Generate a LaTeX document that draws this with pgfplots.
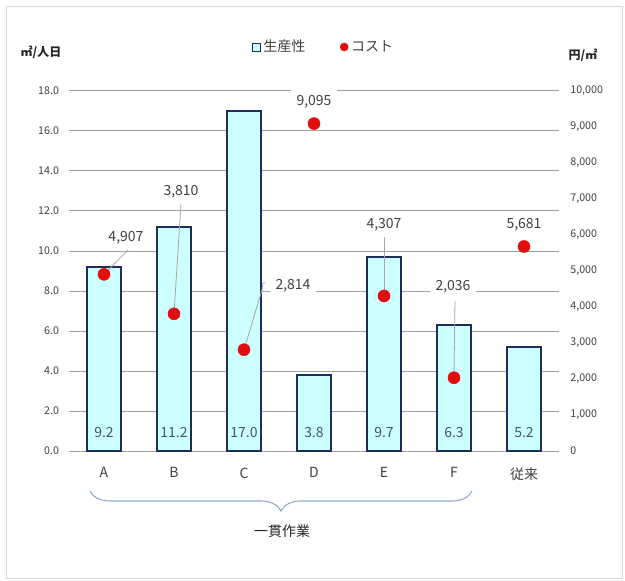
\documentclass[border=0pt]{standalone}
\usepackage{pgfplots}
\pgfplotsset{compat=1.18}
\usepackage{fontspec}
\setmainfont{Noto Sans CJK JP}
\usetikzlibrary{decorations.pathreplacing}

\definecolor{barfill}{HTML}{CCFFFF}
\definecolor{baredge}{HTML}{1F2D5C}
\definecolor{dotred}{HTML}{E00E0E}
\definecolor{gridgray}{HTML}{A0A0A0}
\definecolor{txt}{HTML}{404040}
\definecolor{barlbl}{HTML}{44546A}
\definecolor{bracecol}{HTML}{8EA9CC}
\definecolor{leader}{HTML}{A6A6A6}

\pgfplotsset{
  common/.style={
    at={(51.75pt,-338.25pt)}, anchor=south west,
    scale only axis, width=367.5pt, height=270pt,
    xmin=-0.5, xmax=6.5,
    axis line style={draw=none},
    major tick length=0pt,
    tick label style={text=txt, font=\fontsize{8}{10}\selectfont},
    /pgf/number format/assume math mode=true,
  },
}

\begin{document}
\begin{tikzpicture}
\begin{scope}[x=0.75pt,y=-0.75pt]
  \path[use as bounding box] (0,0) rectangle (625,581);
  \draw[black!15, line width=0.75pt] (6,7) rectangle (622,578);
  \node[font=\bfseries\fontsize{9}{11}\selectfont, text=black!85] at (41,52) {㎡/人日};
  \node[font=\bfseries\fontsize{9}{11}\selectfont, text=black!85] at (583,55) {円/㎡};
  \draw[bracecol, line width=0.8pt, decorate, decoration={brace, amplitude=15pt, mirror}]
    (90,491) -- (472,491);
  \node[font=\fontsize{10.5}{12}\selectfont, text=black!85] at (282,531) {一貫作業};
\end{scope}

% productivity (left axis)
\begin{axis}[common,
  ymin=0, ymax=18,
  ytick={0,2,...,18},
  ymajorgrids, grid style={gridgray, line width=0.75pt},
  xtick={0,...,6},
  xticklabels={A,B,C,D,E,F,従来},
  xticklabel style={font=\fontsize{10.5}{12}\selectfont, yshift=-9pt},
  yticklabel style={xshift=-4pt, /pgf/number format/.cd, fixed, fixed zerofill, precision=1},
  clip=false,
]
\addplot[ybar, bar shift=0pt, bar width=25.5pt, fill=barfill, draw=baredge, line width=0.9pt]
  coordinates {(0,9.2) (1,11.2) (2,17.0) (3,3.8) (4,9.7) (5,6.3) (6,5.2)};
\addplot[draw=none, mark=none, nodes near coords, point meta=explicit symbolic,
  every node near coord/.style={anchor=center, yshift=13.5pt, text=barlbl,
    font=\fontsize{10.5}{12}\selectfont}]
  coordinates {(0,0) [9.2] (1,0) [11.2] (2,0) [17.0] (3,0) [3.8] (4,0) [9.7] (5,0) [6.3] (6,0) [5.2]};
\end{axis}

% cost (right axis)
\begin{axis}[common,
  ymin=0, ymax=10000,
  ytick={0,1000,...,10000},
  scaled y ticks=false,
  yticklabel style={xshift=5pt, /pgf/number format/.cd, fixed, 1000 sep={,}},
  axis y line*=right,
  hide x axis,
  clip=false,
  legend style={at={(0.520,1.1222)}, anchor=center, draw=none, fill=none,
    legend columns=2, font=\fontsize{10.5}{12}\selectfont, text=txt,
    /tikz/every even column/.append style={column sep=24pt},
    inner sep=0pt},
]
\addlegendimage{legend image code/.code={
  \draw[fill=barfill, draw=baredge, line width=0.6pt] (0pt,-3pt) rectangle (6pt,3pt);}}
\addlegendentry{生産性}
\addplot[only marks, mark=*, mark size=4.5pt, color=dotred,
  legend image code/.code={\fill[dotred] (3pt,0pt) circle (3pt);}]
  coordinates {(0,4907) (1,3810) (2,2814) (3,9095) (4,4307) (5,2036) (6,5681)};
\addlegendentry{コスト}

\begin{scope}[leader, line width=0.6pt]
  \draw (axis cs:0,4907) -- (axis cs:0.343,5583);
  \draw (axis cs:1,3810) -- (axis cs:1.1,6861);
  \draw (axis cs:2,2814) -- (axis cs:2.257,4472) -- (axis cs:2.271,4667) -- (axis cs:2.31,4667);
  \draw (axis cs:4,4307) -- (axis cs:4,6083);
  \draw (axis cs:5,2036) -- (axis cs:5.014,4167);
\end{scope}
\begin{scope}[every node/.style={fill=white, inner xsep=4pt, inner ysep=4pt,
    text=txt, font=\fontsize{10.5}{12}\selectfont}]
  \node at (axis cs:0.314,5917) {4,907};
  \node at (axis cs:1.1,7194) {3,810};
  \node at (axis cs:2.7,4583) {2,814};
  \node at (axis cs:3.0,9694) {9,095};
  \node at (axis cs:4.0,6278) {4,307};
  \node at (axis cs:4.986,4556) {2,036};
  \node at (axis cs:6.0,6278) {5,681};
\end{scope}
\end{axis}
\end{tikzpicture}
\end{document}
